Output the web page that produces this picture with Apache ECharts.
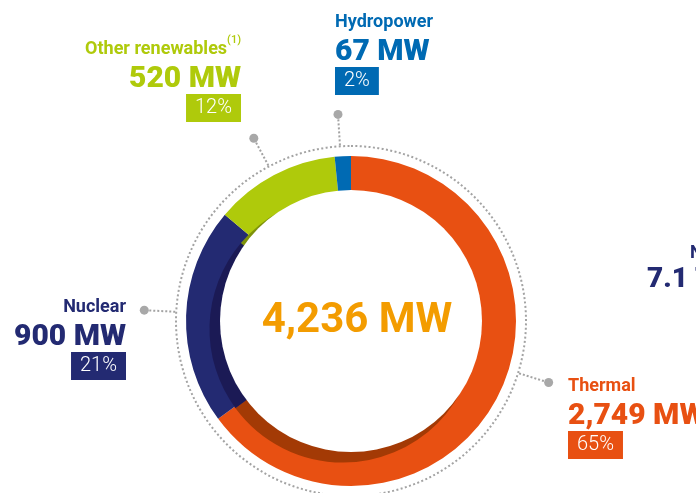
<!DOCTYPE html>
<html>
<head>
<meta charset="utf-8">
<script src="https://cdn.jsdelivr.net/npm/echarts@6/dist/echarts.min.js"></script>
<style>
html, body { margin: 0; padding: 0; background: #fff; }
#main { width: 696px; height: 493px; }
</style>
</head>
<body>
<div id="main"></div>
<script>
// installed capacity by source
var names = ['Thermal', 'Nuclear', 'Other renewables', 'Hydropower'];
var values = [2749, 900, 520, 67];
var notes = ['', '', '(1)', ''];
var colors = ['#e85012', '#232a72', '#afca0b', '#006ab3'];
var shades = ['#a33a05', '#1b1a55', '#7e920a', '#004d82'];

// label placement: [x, top, align] and leader angle (deg, clockwise from top)
var labelPos = [[568, 372, 'left'], [126, 293, 'right'], [241, 35, 'right'], [335, 8, 'left']];
var leaderAngle = [107.3, 273, 332, 356.4];

var CX = 351, CY = 321;
var FONT = 'Roboto';

function pt(deg, r) {
  var a = deg * Math.PI / 180;
  return [CX + r * Math.sin(a), CY - r * Math.cos(a)];
}

var total = values.reduce(function (s, v) { return s + v; }, 0);

function richFor(i) {
  var al = labelPos[i][2];
  return {
    n: { fontFamily: FONT, fontSize: 18, fontWeight: 'bold', lineHeight: 28, color: colors[i], align: al },
    s: { fontFamily: FONT, fontSize: 11, fontWeight: 500, lineHeight: 20, color: colors[i], align: al, verticalAlign: 'top' },
    v: { fontFamily: FONT, fontSize: 30, fontWeight: 900, lineHeight: 33, color: colors[i], align: al },
    p: { fontFamily: FONT, fontSize: 20, fontWeight: 300, lineHeight: 24, color: '#fff', backgroundColor: colors[i], padding: [4, 9], align: al }
  };
}

var chart = echarts.init(document.getElementById('main'));

var dots = leaderAngle.map(function (a) {
  var p = pt(a, 207);
  return { type: 'circle', z: 50, shape: { cx: p[0], cy: p[1], r: 4.5 }, style: { fill: '#a8a8a8' } };
});

option = {
  animation: false,
  textStyle: { fontFamily: FONT },
  graphic: dots.concat([
    { type: 'text', z: 50, left: 690, top: 244, style: { text: 'Net', fill: '#232a72', font: 'bold 18px Roboto' } },
    { type: 'text', z: 50, left: 647, top: 266, style: { text: '7.1 TWh', fill: '#232a72', font: '900 28px Roboto' } }
  ]),
  series: [
    {
      // dotted outer guide circle
      type: 'pie', z: 1, silent: true,
      center: [CX, CY], radius: [0, 175],
      label: { show: false }, labelLine: { show: false },
      itemStyle: { color: 'rgba(0,0,0,0)', borderColor: '#a3a3a3', borderWidth: 2, borderType: [2, 2.4] },
      data: [{ value: 1, name: 'guide' }]
    },
    {
      type: 'pie', z: 2,
      center: [CX, CY], radius: [125, 165],
      startAngle: 90, clockwise: true,
      avoidLabelOverlap: false,
      itemStyle: { borderWidth: 0 },
      data: names.map(function (n, i) {
        return { name: n, value: values[i], itemStyle: { color: colors[i] }, label: { rich: richFor(i) } };
      }),
      label: {
        show: true, position: 'outside',
        formatter: function (p) {
          var i = p.dataIndex;
          return '{n|' + p.name + '}' + (notes[i] ? '{s|' + notes[i] + '}' : '') +
            '\n{v|' + p.value.toLocaleString('en-US') + ' MW}' +
            '\n{p|' + Math.round(p.percent) + '%}';
        }
      },
      labelLine: { show: true, lineStyle: { color: '#a3a3a3', width: 2, type: [2, 2] } },
      labelLayout: function (p) {
        var i = p.dataIndex, lp = labelPos[i];
        var a = pt(leaderAngle[i], 176), b = pt(leaderAngle[i], 205);
        return { x: lp[0], y: lp[1], align: lp[2], verticalAlign: 'top', labelLinePoints: [a, b, b] };
      }
    },
    {
      // inner shading on the lower left
      type: 'pie', z: 3, silent: true,
      center: [CX - 8, CY + 8], radius: [0, 133.5],
      startAngle: 90, clockwise: true,
      label: { show: false }, labelLine: { show: false },
      data: names.map(function (n, i) {
        return { name: n, value: values[i], itemStyle: { color: shades[i] } };
      })
    },
    {
      type: 'pie', z: 4, silent: true,
      center: [CX, CY], radius: [0, 131],
      labelLine: { show: false },
      label: {
        show: true, position: 'center',
        formatter: total.toLocaleString('en-US') + ' MW',
        fontFamily: FONT, fontSize: 42, fontWeight: 'bold', color: '#f39c00',
        padding: [8, 0, 0, 12]
      },
      data: [{ value: total, name: 'Total', itemStyle: { color: '#fff' } }]
    }
  ]
};

chart.setOption(option);
</script>
</body>
</html>
